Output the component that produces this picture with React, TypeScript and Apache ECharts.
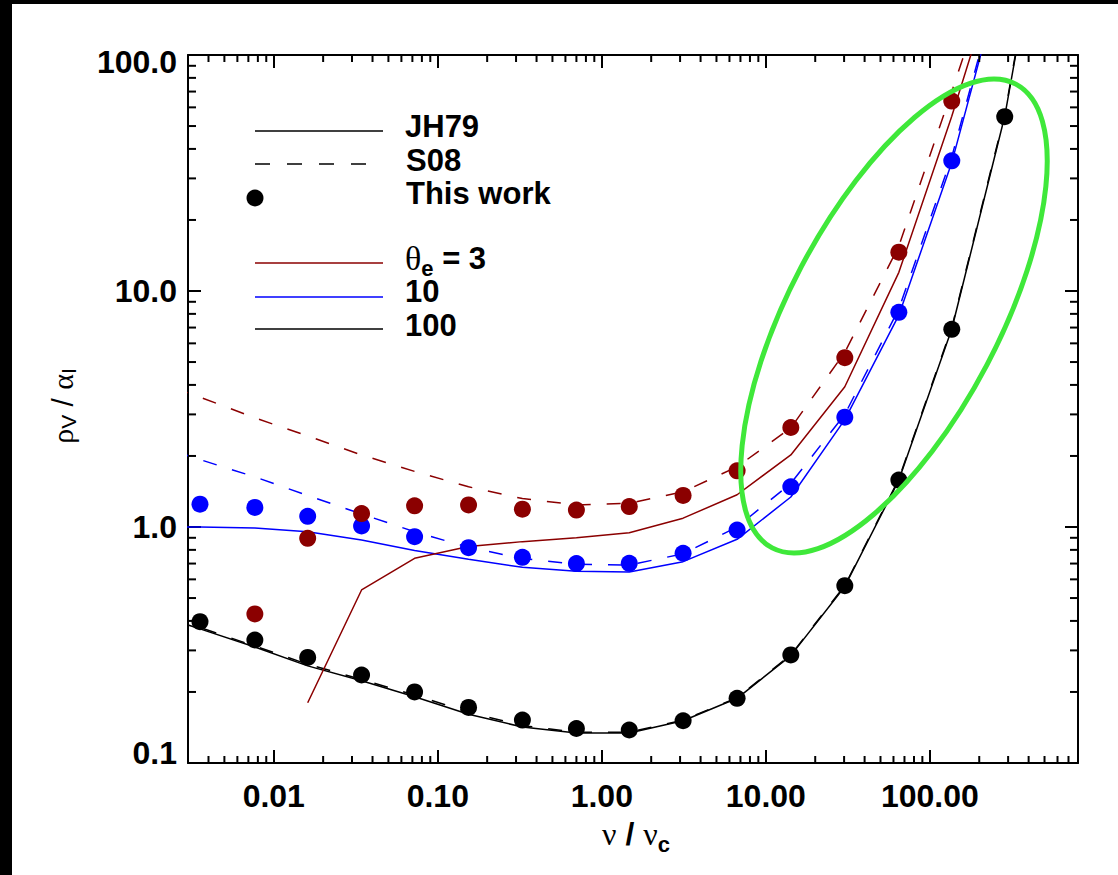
import React, { useEffect, useRef } from 'react';
import * as echarts from 'echarts';

// ---- data ----
const X_RANGE = [0.003, 800];
const Y_RANGE = [0.1, 100];

// frequencies of the "This work" points
const nuDots = [0.00355, 0.00767, 0.0161, 0.0343, 0.0722, 0.154, 0.328, 0.7, 1.47, 3.13, 6.68, 14.2, 30.3, 64.7, 136, 286];
const dotsT100 = [0.397, 0.332, 0.28, 0.236, 0.2, 0.172, 0.152, 0.14, 0.138, 0.151, 0.188, 0.287, 0.564, 1.58, 6.88, 54.8];
const dotsT10 = [1.25, 1.21, 1.11, 1.01, 0.91, 0.817, 0.744, 0.7, 0.702, 0.774, 0.971, 1.48, 2.92, 8.12, 35.6, null];
const dotsT3 = [null, 0.428, 0.895, 1.14, 1.23, 1.24, 1.19, 1.18, 1.22, 1.36, 1.73, 2.64, 5.22, 14.6, 63.8, null];

// frequencies at which the JH79 / S08 curves are sampled
const nuCurve = [0.00167, 0.00355, 0.00767, 0.0161, 0.0343, 0.0722, 0.154, 0.328, 0.7, 1.47, 3.13, 6.68, 14.2, 30.3, 64.7, 136, 286, 610];
const jh79T100 = [0.44, 0.37, 0.31, 0.258, 0.223, 0.191, 0.161, 0.142, 0.134, 0.134, 0.151, 0.188, 0.285, 0.56, 1.58, 6.9, 55, 1050];
const s08T100 = [0.45, 0.375, 0.313, 0.262, 0.226, 0.194, 0.164, 0.144, 0.135, 0.135, 0.152, 0.189, 0.287, 0.565, 1.6, 7.0, 56, 1070];
const jh79T10 = [1.0, 1.0, 0.99, 0.955, 0.88, 0.795, 0.73, 0.675, 0.65, 0.645, 0.713, 0.887, 1.34, 2.85, 7.9, 35, 240, null];
const s08T10 = [2.29, 1.93, 1.63, 1.36, 1.135, 0.955, 0.82, 0.735, 0.695, 0.69, 0.77, 1.0, 1.53, 3.0, 8.4, 37, 250, null];
const jh79T3 = [null, null, null, 0.18, 0.541, 0.737, 0.826, 0.867, 0.9, 0.946, 1.09, 1.37, 2.02, 3.93, 12.0, 55, 290, null];
const s08T3 = [4.27, 3.55, 2.9, 2.43, 2.02, 1.72, 1.48, 1.32, 1.24, 1.26, 1.41, 1.8, 2.63, 5.5, 15.5, 70, 330, null];

const xMinorTicks = [0.004, 0.005, 0.006, 0.007, 0.008, 0.009,
  0.02, 0.03, 0.04, 0.05, 0.06, 0.07, 0.08, 0.09,
  0.2, 0.3, 0.4, 0.5, 0.6, 0.7, 0.8, 0.9,
  2, 3, 4, 5, 6, 7, 8, 9,
  20, 30, 40, 50, 60, 70, 80, 90,
  200, 300, 400, 500, 600, 700];
const yMinorTicks = [0.2, 0.3, 0.4, 0.5, 0.6, 0.7, 0.8, 0.9,
  2, 3, 4, 5, 6, 7, 8, 9,
  20, 30, 40, 50, 60, 70, 80, 90];

const legendLabels = ['JH79', 'S08', 'This work', 'θe = 3', '10', '100'];

// ---- styles ----
const SANS = '"Liberation Sans", Arial, Helvetica, sans-serif';
const SERIF = '"Liberation Serif", "DejaVu Serif", "Times New Roman", serif';
const RED = '#8b0000';
const BLUE = '#0000ff';
const BLACK = '#000000';
const GREEN = '#3fe83a';
const DASH = [14, 16];

function pairs(xs: number[], ys: (number | null)[]) {
  const out: number[][] = [];
  xs.forEach((x, i) => {
    const y = ys[i];
    if (y != null) out.push([x, y]);
  });
  return out;
}

function lineSeries(name: string, data: number[][], color: string, dashed: boolean) {
  return {
    name,
    type: 'line',
    data,
    symbol: 'none',
    silent: true,
    clip: true,
    lineStyle: { color, width: 1.5, type: dashed ? DASH : 'solid' },
    z: 2,
  };
}

function dotSeries(name: string, data: number[][], color: string) {
  return {
    name,
    type: 'scatter',
    data,
    symbol: 'circle',
    symbolSize: 17,
    silent: true,
    itemStyle: { color, opacity: 1 },
    z: 3,
  };
}

export default function App() {
  const ref = useRef<HTMLDivElement>(null);

  useEffect(() => {
    document.body.style.margin = '0';
    const chart = echarts.init(ref.current!, null, { renderer: 'svg' });

    const tickStyle = { color: BLACK, width: 2 };
    const baseAxis = {
      type: 'log',
      logBase: 10,
      axisLine: { show: true, onZero: false, lineStyle: { color: BLACK, width: 2 } },
      axisTick: { show: true, inside: true, length: 13, lineStyle: tickStyle },
      splitLine: { show: false },
      minorTick: { show: false },
      minorSplitLine: { show: false },
    };
    const labelFont = { fontSize: 32, fontWeight: 'bold', fontFamily: SANS, color: BLACK };

    const minorX = {
      type: 'custom',
      silent: true,
      clip: false,
      z: 5,
      data: xMinorTicks.map((v) => [v, 1]),
      encode: { x: 0, y: 1 },
      renderItem: (params: any, api: any) => {
        const p = api.coord([api.value(0), 1]);
        const cs = params.coordSys;
        const top = cs.y;
        const bottom = cs.y + cs.height;
        return {
          type: 'group',
          children: [
            { type: 'line', shape: { x1: p[0], y1: bottom, x2: p[0], y2: bottom - 7 }, style: { stroke: BLACK, lineWidth: 2 } },
            { type: 'line', shape: { x1: p[0], y1: top, x2: p[0], y2: top + 7 }, style: { stroke: BLACK, lineWidth: 2 } },
          ],
        };
      },
    };
    const minorY = {
      type: 'custom',
      silent: true,
      clip: false,
      z: 5,
      data: yMinorTicks.map((v) => [1, v]),
      encode: { x: 0, y: 1 },
      renderItem: (params: any, api: any) => {
        const p = api.coord([1, api.value(1)]);
        const cs = params.coordSys;
        const left = cs.x;
        const right = cs.x + cs.width;
        return {
          type: 'group',
          children: [
            { type: 'line', shape: { x1: left, y1: p[1], x2: left + 8, y2: p[1] }, style: { stroke: BLACK, lineWidth: 2 } },
            { type: 'line', shape: { x1: right, y1: p[1], x2: right - 8, y2: p[1] }, style: { stroke: BLACK, lineWidth: 2 } },
          ],
        };
      },
    };

    // legend (drawn as graphic)
    const LX0 = 255, LX1 = 383, TX = 405, LFS = 31;
    const plain = (text: string, x: number, y: number) => ({
      type: 'text', x, y,
      style: { text, fontSize: LFS, fontWeight: 'bold', fontFamily: SANS, fill: BLACK, verticalAlign: 'middle', lineHeight: 30 },
    });
    const legendGraphics: any[] = [
      { type: 'line', shape: { x1: LX0, y1: 131, x2: LX1, y2: 131 }, style: { stroke: BLACK, lineWidth: 1.5 } },
      { type: 'line', shape: { x1: LX0, y1: 164, x2: LX1, y2: 164 }, style: { stroke: BLACK, lineWidth: 1.5, lineDash: [15, 17] } },
      { type: 'circle', shape: { cx: LX0, cy: 198, r: 8.5 }, style: { fill: BLACK } },
      { type: 'line', shape: { x1: LX0, y1: 263, x2: LX1, y2: 263 }, style: { stroke: RED, lineWidth: 1.5 } },
      { type: 'line', shape: { x1: LX0, y1: 297, x2: LX1, y2: 297 }, style: { stroke: BLUE, lineWidth: 1.5 } },
      { type: 'line', shape: { x1: LX0, y1: 329, x2: LX1, y2: 329 }, style: { stroke: BLACK, lineWidth: 1.5 } },
      plain(legendLabels[0], TX, 126),
      plain(legendLabels[1], TX + 1, 160),
      plain(legendLabels[2], TX + 1, 193),
      {
        type: 'text', x: TX, y: 258,
        style: {
          text: '{g|θ}{s|e}{n| = 3}',
          verticalAlign: 'middle',
          rich: {
            g: { fontSize: 34, fontFamily: SERIF, fill: BLACK, color: BLACK, lineHeight: 30 },
            s: { fontSize: 22, fontWeight: 'bold', fontFamily: SANS, fill: BLACK, color: BLACK, lineHeight: 10, padding: [20, 0, 0, 0] },
            n: { fontSize: LFS, fontWeight: 'bold', fontFamily: SANS, fill: BLACK, color: BLACK, lineHeight: 30 },
          },
        },
      },
      plain(legendLabels[4], TX, 291),
      plain(legendLabels[5], TX, 325),
    ];

    const option: any = {
      animation: false,
      backgroundColor: '#ffffff',
      grid: { left: 188, top: 55, right: 40, bottom: 112, containLabel: false, outerBoundsMode: 'none' },
      xAxis: [
        {
          ...baseAxis,
          position: 'bottom',
          min: X_RANGE[0],
          max: X_RANGE[1],
          axisLabel: {
            ...labelFont,
            margin: 17,
            showMinLabel: false,
            showMaxLabel: false,
            formatter: (v: number) => Math.pow(10, Math.round(Math.log10(v))).toFixed(2),
          },
        },
        {
          ...baseAxis,
          position: 'top',
          min: X_RANGE[0],
          max: X_RANGE[1],
          axisLabel: { show: false },
        },
      ],
      yAxis: [
        {
          ...baseAxis,
          position: 'left',
          min: Y_RANGE[0],
          max: Y_RANGE[1],
          axisLabel: {
            ...labelFont,
            margin: 11,
            formatter: (v: number) => {
              const lg = Math.round(Math.log10(v));
              const s = Math.pow(10, lg).toFixed(1);
              if (lg === 2) return `{t|${s}}`;
              if (lg === -1) return `{b|${s}}`;
              return s;
            },
            rich: {
              t: { ...labelFont, padding: [14, 0, 0, 0] },
              b: { ...labelFont, padding: [0, 0, 20, 0] },
            },
          },
        },
        {
          ...baseAxis,
          position: 'right',
          min: Y_RANGE[0],
          max: Y_RANGE[1],
          axisLabel: { show: false },
        },
      ],
      series: [
        lineSeries('JH79 θe=100', pairs(nuCurve, jh79T100), BLACK, false),
        lineSeries('S08 θe=100', pairs(nuCurve, s08T100), BLACK, true),
        lineSeries('JH79 θe=10', pairs(nuCurve, jh79T10), BLUE, false),
        lineSeries('S08 θe=10', pairs(nuCurve, s08T10), BLUE, true),
        lineSeries('JH79 θe=3', pairs(nuCurve, jh79T3), RED, false),
        lineSeries('S08 θe=3', pairs(nuCurve, s08T3), RED, true),
        dotSeries('This work θe=100', pairs(nuDots, dotsT100), BLACK),
        dotSeries('This work θe=10', pairs(nuDots, dotsT10), BLUE),
        dotSeries('This work θe=3', pairs(nuDots, dotsT3), RED),
        minorX,
        minorY,
      ],
      graphic: [
        { type: 'rect', shape: { x: 0, y: 0, width: 12, height: 875 }, style: { fill: BLACK }, z: 50 },
        { type: 'rect', shape: { x: 0, y: 0, width: 1118, height: 4 }, style: { fill: BLACK }, z: 50 },
        ...legendGraphics.map((g) => ({ ...g, z: 60 })),
        {
          type: 'text', x: 636, y: 834, z: 60,
          style: {
            text: '{g|ν}{n| / }{g|ν}{s|c}',
            align: 'center',
            verticalAlign: 'middle',
            rich: {
              g: { fontSize: 32, fontFamily: SERIF, fill: BLACK, color: BLACK, lineHeight: 34 },
              n: { fontSize: 32, fontWeight: 'bold', fontFamily: SANS, fill: BLACK, color: BLACK, lineHeight: 34 },
              s: { fontSize: 22, fontWeight: 'bold', fontFamily: SANS, fill: BLACK, color: BLACK, lineHeight: 10, padding: [20, 0, 0, 0] },
            },
          },
        },
        {
          type: 'text', x: 62, y: 406, rotation: Math.PI / 2, z: 60,
          style: {
            text: '{g|ρ}{s|V}{n| / }{g|α}{s|I}',
            align: 'center',
            verticalAlign: 'middle',
            rich: {
              g: { fontSize: 30, fontFamily: SERIF, fill: BLACK, color: BLACK, lineHeight: 32 },
              n: { fontSize: 30, fontFamily: SANS, fill: BLACK, color: BLACK, lineHeight: 32 },
              s: { fontSize: 21, fontFamily: SANS, fill: BLACK, color: BLACK, lineHeight: 10, padding: [12, 0, 0, 0] },
            },
          },
        },
        {
          type: 'ellipse',
          x: 894,
          y: 316,
          rotation: (62.3 * Math.PI) / 180,
          shape: { cx: 0, cy: 0, rx: 262, ry: 105 },
          style: { fill: 'transparent', stroke: GREEN, lineWidth: 5 },
          z: 100,
        },
      ],
    };

    chart.setOption(option);
    return () => {
      chart.dispose();
    };
  }, []);

  return <div ref={ref} style={{ position: 'absolute', left: 0, top: 0, width: 1118, height: 875 }} />;
}
